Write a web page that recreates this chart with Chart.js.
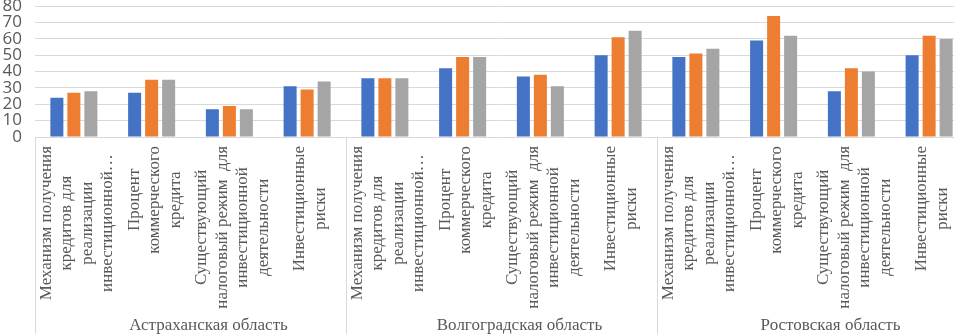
<!DOCTYPE html>
<html><head><meta charset="utf-8">
<script src="https://cdn.jsdelivr.net/npm/chart.js@4/dist/chart.umd.min.js"></script>
<style>
html,body{margin:0;padding:0;background:#fff;overflow:hidden;}
#wrap{position:relative;width:954px;height:334px;overflow:hidden;background:#fff;}
#c{position:absolute;left:0;top:-17px;}
</style></head><body>
<div id="wrap"><canvas id="c" width="968" height="351"></canvas></div>
<script>
const regions = ['Астраханская область', 'Волгоградская область', 'Ростовская область'];
const factors = [
  ['Механизм получения', 'кредитов для', 'реализации', 'инвестиционной…'],
  ['Процент', 'коммерческого', 'кредита'],
  ['Существующий', 'налоговый режим  для', 'инвестиционной', 'деятельности'],
  ['Инвестиционные', 'риски']
];
const seriesNames = ['Ряд 1', 'Ряд 2', 'Ряд 3'];
const series1 = [24, 27, 17, 31, 36, 42, 37, 50, 49, 59, 28, 50];
const series2 = [27, 35, 19, 29, 36, 49, 38, 61, 51, 74, 42, 62];
const series3 = [28, 35, 17, 34, 36, 49, 31, 65, 54, 62, 40, 60];
const yTicks = [0, 10, 20, 30, 40, 50, 60, 70, 80];
const colors = ['#4472C4', '#ED7D31', '#A5A5A5'];

const labels = [];
regions.forEach(r => factors.forEach(f => labels.push(f.join(' ') + ' — ' + r)));

const labelPlugin = {
  id: 'multiLevel',
  afterDraw(chart) {
    const ctx = chart.ctx, x = chart.scales.x, area = chart.chartArea;
    const cw = x.getPixelForValue(1) - x.getPixelForValue(0);
    const nf = factors.length;
    ctx.save();
    ctx.strokeStyle = '#d9d9d9';
    ctx.lineWidth = 1;
    for (let g = 0; g <= regions.length; g++) {
      const bx = Math.round(x.getPixelForValue(g * nf) - cw / 2) + 0.5;
      ctx.beginPath();
      ctx.moveTo(bx, area.bottom);
      ctx.lineTo(bx, chart.height);
      ctx.stroke();
    }
    ctx.fillStyle = '#595959';
    ctx.font = '17px "Liberation Serif", "Times New Roman", serif';
    ctx.textAlign = 'center';
    ctx.textBaseline = 'middle';
    const lh = 20.5;
    for (let i = 0; i < labels.length; i++) {
      const lines = factors[i % nf];
      const cx = x.getPixelForValue(i) + 3;
      let maxW = 0;
      lines.forEach(l => { maxW = Math.max(maxW, ctx.measureText(l).width); });
      const cy = area.bottom + 9 + maxW / 2;
      lines.forEach((l, j) => {
        const off = (j - (lines.length - 1) / 2) * lh;
        ctx.save();
        ctx.translate(cx + off, cy);
        ctx.rotate(-Math.PI / 2);
        ctx.textAlign = 'center';
        ctx.fillText(l, 0, 0);
        ctx.restore();
      });
    }
    ctx.font = '17px "Liberation Serif", "Times New Roman", serif';
    for (let g = 0; g < regions.length; g++) {
      const a = x.getPixelForValue(g * nf) - cw / 2;
      const b = a + cw * nf;
      ctx.fillText(regions[g], (a + b) / 2 + 18, area.bottom + 189);
    }
    ctx.restore();
  }
};

new Chart(document.getElementById('c'), {
  type: 'bar',
  data: {
    labels: labels,
    datasets: [series1, series2, series3].map((d, k) => ({
      label: seriesNames[k],
      data: d,
      backgroundColor: colors[k],
      borderWidth: 0,
      categoryPercentage: 0.656,
      barPercentage: 0.765
    }))
  },
  options: {
    responsive: false,
    animation: false,
    events: [],
    layout: { padding: 0 },
    plugins: { legend: { display: false }, tooltip: { enabled: false } },
    scales: {
      x: {
        grid: { display: false },
        border: { display: false },
        ticks: { display: false },
        afterFit(s) { s.height = 197; }
      },
      y: {
        min: 0, max: 80,
        afterBuildTicks(s) { s.ticks = yTicks.map(v => ({ value: v })); },
        grid: { color: '#d9d9d9', lineWidth: 1, drawTicks: false },
        border: { display: false },
        ticks: {
          autoSkip: false,
          padding: 13,
          color: '#595959',
          font: { family: '"Open Sans", sans-serif', size: 17 }
        },
        afterFit(s) { s.width = 35; }
      }
    }
  },
  plugins: [labelPlugin]
});
</script>
</body></html>
